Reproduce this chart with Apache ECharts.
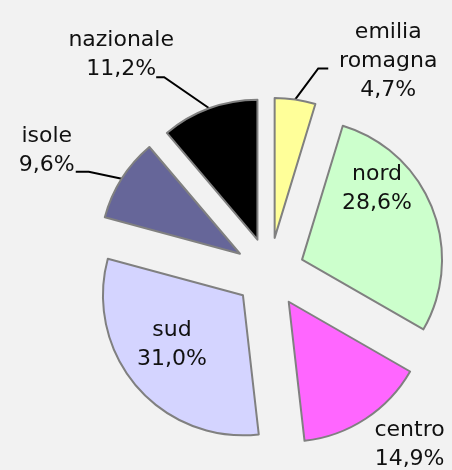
<!DOCTYPE html>
<html>
<head>
<meta charset="utf-8">
<script src="https://cdn.jsdelivr.net/npm/echarts@6/dist/echarts.min.js"></script>
<style>
html, body { margin: 0; padding: 0; background: #f2f2f2; }
#chart { width: 452px; height: 470px; }
</style>
</head>
<body>
<div id="chart"></div>
<script>
const categories = ['emilia\nromagna', 'nord', 'centro', 'sud', 'isole', 'nazionale'];
const shares = [4.7, 28.6, 14.9, 31.0, 9.6, 11.2];
const colors = ['#ffff99', '#ccffcc', '#ff66ff', '#d4d4ff', '#666699', '#000000'];

// exploded pie geometry
const pieCenter = [269.5, 272.5];
const pieRadius = 140;
const explode = 35;

// where each label goes: 'arc' = from middle of the outer arc, 'apex' = from slice tip
const labelPlacement = [
    { from: 'arc', elbow: [23, -31], tail: 10, text: [60, -7] },
    { from: 'apex', text: [75, -71] },
    { from: 'arc', text: [44, 26] },
    { from: 'apex', text: [-71, 49] },
    { from: 'arc', elbow: [-33, -7], tail: -13, text: [-29, -21] },
    { from: 'arc', elbow: [-45, -31], tail: -8, text: [-35, -22] }
];

const total = shares.reduce((a, b) => a + b, 0);
const midAngles = [];
let acc = 0;
shares.forEach(v => {
    midAngles.push(Math.PI / 2 - 2 * Math.PI * (acc + v / 2) / total);
    acc += v;
});

const sliceCenter = i => {
    const a = midAngles[i];
    return [pieCenter[0] + explode * Math.cos(a), pieCenter[1] - explode * Math.sin(a)];
};
const arcMid = i => {
    const c = sliceCenter(i), a = midAngles[i];
    return [c[0] + pieRadius * Math.cos(a), c[1] - pieRadius * Math.sin(a)];
};

const fmt = p => p.name + '\n' + p.value.toFixed(1).replace('.', ',') + '%';

// one series per slice, so every slice gets its own (pushed out) centre
const series = shares.map((_, i) => ({
    type: 'pie',
    center: sliceCenter(i),
    radius: pieRadius,
    startAngle: 90,
    clockwise: true,
    avoidLabelOverlap: false,
    animation: false,
    silent: true,
    label: {
        formatter: fmt,
        fontFamily: 'DejaVu Sans',
        fontSize: 22,
        lineHeight: 29,
        color: '#111'
    },
    labelLine: {
        lineStyle: { color: '#000', width: 2 }
    },
    labelLayout: params => {
        if (params.dataIndex !== i) return {};
        const p = labelPlacement[i];
        const base = p.from === 'arc' ? arcMid(i) : sliceCenter(i);
        if (!p.elbow) {
            return { x: base[0] + p.text[0], y: base[1] + p.text[1], align: 'center', verticalAlign: 'middle' };
        }
        const elbow = [base[0] + p.elbow[0], base[1] + p.elbow[1]];
        const end = [elbow[0] + p.tail, elbow[1]];
        return {
            x: end[0] + p.text[0],
            y: end[1] + p.text[1],
            align: 'center',
            verticalAlign: 'middle',
            labelLinePoints: [base, elbow, end]
        };
    },
    data: shares.map((v, j) => ({
        name: categories[j],
        value: v,
        itemStyle: j === i
            ? { color: colors[j], borderColor: '#808080', borderWidth: 2 }
            : { color: 'transparent', borderWidth: 0 },
        label: {
            show: j === i,
            position: labelPlacement[j].from === 'apex' ? 'inside' : 'outside'
        },
        labelLine: { show: j === i && !!labelPlacement[j].elbow }
    }))
}));

const chart = echarts.init(document.getElementById('chart'));
chart.setOption({
    backgroundColor: '#f2f2f2',
    series: series
});
</script>
</body>
</html>
